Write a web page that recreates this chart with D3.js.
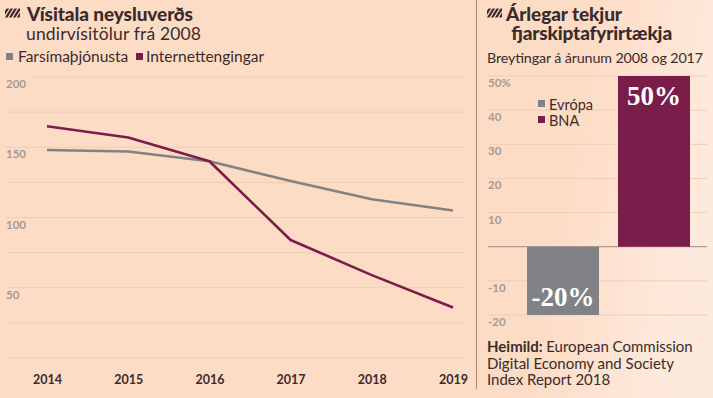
<!DOCTYPE html>
<html>
<head>
<meta charset="utf-8">
<script src="https://cdn.jsdelivr.net/npm/d3@7"></script>
<style>
  html, body { margin: 0; padding: 0; background: #fddcc5; }
  svg { display: block; font-family: Lato, "Open Sans", sans-serif; }
</style>
</head>
<body>
<svg id="chart" width="713" height="398"></svg>
<script>
// left chart: price index sub-indices since 2008
const years = ["2014", "2015", "2016", "2017", "2018", "2019"];
const farsimi = [148, 147, 140, 126, 113, 105];
const internet = [165, 157, 140, 84, 59, 36];
const leftTicks = [0, 25, 50, 75, 100, 125, 150, 175, 200];
const leftLabels = [50, 100, 150, 200];

// right chart: revenue change 2008-2017
const regions = ["Evrópa", "BNA"];
const change = [-20, 50];
const rightTicks = [-20, -10, 0, 10, 20, 30, 40, 50];

const GREY = "#808285", PURPLE = "#7a1d4b", TEXT = "#3b2b2b", GRID = "#efcdb5", TICK = "#a39a94";

const svg = d3.select("#chart");
const defs = svg.append("defs");
const grad = defs.append("linearGradient").attr("id", "fade").attr("x1", 0).attr("x2", 1).attr("y1", 0).attr("y2", 0.3);
grad.append("stop").attr("offset", "0%").attr("stop-color", "#fddcc5");
grad.append("stop").attr("offset", "45%").attr("stop-color", "#fddcc5");
grad.append("stop").attr("offset", "100%").attr("stop-color", "#feeadd");
svg.append("rect").attr("x", 477).attr("y", 0).attr("width", 236).attr("height", 398).attr("fill", "url(#fade)");

let hatchN = 0;
function hatch(x, y) {
  const id = "hclip" + (hatchN++);
  defs.append("clipPath").attr("id", id).append("rect").attr("width", 15).attr("height", 9);
  const h = svg.append("g").attr("transform", `translate(${x},${y})`).attr("clip-path", `url(#${id})`);
  [-2, 2, 6, 10, 14].forEach(o => h.append("line")
    .attr("x1", o - 2).attr("y1", 11).attr("x2", o + 6).attr("y2", -2)
    .attr("stroke", TEXT).attr("stroke-width", 2.2));
}

// ---- left panel ----
hatch(5, 8.5);
svg.append("text").attr("x", 27).attr("y", 21).attr("font-size", 19).attr("font-weight", 900)
  .attr("fill", TEXT).attr("textLength", 166).text("Vísitala neysluverðs");
svg.append("text").attr("x", 26).attr("y", 40).attr("font-size", 17.5).attr("fill", TEXT)
  .attr("textLength", 175).text("undirvísitölur frá 2008");

const legL = [["Farsímaþjónusta", GREY, 6, 18], ["Internettengingar", PURPLE, 136, 146]];
legL.forEach(([t, c, x, tx]) => {
  svg.append("rect").attr("x", x).attr("y", 53).attr("width", 7).attr("height", 7).attr("fill", c);
  svg.append("text").attr("x", tx).attr("y", 62).attr("font-size", 15.5).attr("fill", TEXT).text(t);
});

const x = d3.scalePoint().domain(years).range([47, 453]);
const y = d3.scaleLinear().domain([0, 200]).range([358, 77]);

const gl = svg.append("g");
gl.selectAll("line.grid").data(leftTicks).join("line").attr("class", "grid")
  .attr("x1", d => d === 200 ? 32 : 6).attr("x2", 466).attr("y1", d => y(d)).attr("y2", d => y(d))
  .attr("stroke", GRID).attr("stroke-width", 1);
gl.selectAll("text.tick").data(leftLabels).join("text").attr("class", "tick")
  .attr("x", 6).attr("y", d => y(d) + 11).attr("font-size", 11.5).attr("font-weight", 700)
  .attr("fill", TICK).text(d => d);

const xAxis = svg.append("g").attr("transform", "translate(0,375)")
  .call(d3.axisBottom(x).tickSize(0).tickPadding(0));
xAxis.select(".domain").remove();
xAxis.selectAll("text").attr("font-size", 12.5).attr("font-weight", 700).attr("fill", TEXT)
  .attr("font-family", "Lato, sans-serif");

const line = d3.line().x((d, i) => x(years[i])).y(d => y(d));
[[farsimi, GREY], [internet, PURPLE]].forEach(([s, c]) => {
  svg.append("path").datum(s).attr("d", line).attr("fill", "none")
    .attr("stroke", c).attr("stroke-width", 2.6).attr("stroke-linejoin", "round");
});

// divider
svg.append("line").attr("x1", 476.5).attr("x2", 476.5).attr("y1", 0).attr("y2", 389)
  .attr("stroke", "#a88876").attr("stroke-width", 1);

// ---- right panel ----
hatch(487, 8.5);
svg.append("text").attr("x", 506).attr("y", 21).attr("font-size", 19).attr("font-weight", 900)
  .attr("fill", TEXT).attr("textLength", 116).text("Árlegar tekjur");
svg.append("text").attr("x", 511).attr("y", 40).attr("font-size", 19).attr("font-weight", 900)
  .attr("fill", TEXT).attr("textLength", 161).text("fjarskiptafyrirtækja");
svg.append("text").attr("x", 487).attr("y", 63).attr("font-size", 14.3).attr("fill", TEXT)
  .attr("textLength", 216).text("Breytingar á árunum 2008 og 2017");

const yr = d3.scaleLinear().domain([-20, 50]).range([315, 76]);
const xr = d3.scaleBand().domain(regions).range([527, 690]).paddingInner(19 / 91).paddingOuter(0);

svg.append("g").selectAll("line").data(rightTicks).join("line")
  .attr("x1", 488).attr("x2", 707).attr("y1", d => yr(d)).attr("y2", d => yr(d))
  .attr("stroke", d => d === 0 ? "#9a8c84" : GRID).attr("stroke-width", 1);
svg.append("g").selectAll("text").data(rightTicks.filter(d => d !== 0)).join("text")
  .attr("x", 488).attr("y", d => yr(d) + 11).attr("font-size", 11.5).attr("font-weight", 700)
  .attr("fill", TICK).text(d => d === 50 ? "50%" : d);

const colors = [GREY, PURPLE];
svg.append("g").selectAll("rect").data(change).join("rect")
  .attr("x", (d, i) => xr(regions[i])).attr("width", xr.bandwidth())
  .attr("y", d => yr(Math.max(0, d))).attr("height", d => Math.abs(yr(d) - yr(0)))
  .attr("fill", (d, i) => colors[i]);

svg.append("g").selectAll("text").data(change).join("text")
  .attr("x", (d, i) => xr(regions[i]) + xr.bandwidth() / 2)
  .attr("y", d => d > 0 ? yr(d) + 29 : yr(d) - 9)
  .attr("text-anchor", "middle").attr("font-family", "'Liberation Serif', serif")
  .attr("font-weight", 700).attr("font-size", 27).attr("fill", "#fff")
  .text(d => d + "%");

regions.forEach((r, i) => {
  svg.append("rect").attr("x", 538).attr("y", 100 + i * 16).attr("width", 7).attr("height", 7).attr("fill", colors[i]);
  svg.append("text").attr("x", 549).attr("y", 109.5 + i * 16).attr("font-size", 14.5).attr("fill", TEXT).text(r);
});

const src = svg.append("text").attr("x", 487).attr("y", 352).attr("font-size", 15).attr("fill", TEXT);
src.append("tspan").attr("font-weight", 700).text("Heimild: ");
src.append("tspan").text("European Commission");
svg.append("text").attr("x", 487).attr("y", 368.5).attr("font-size", 15).attr("fill", TEXT)
  .text("Digital Economy and Society");
svg.append("text").attr("x", 487).attr("y", 385).attr("font-size", 15).attr("fill", TEXT)
  .text("Index Report 2018");
</script>
</body>
</html>
